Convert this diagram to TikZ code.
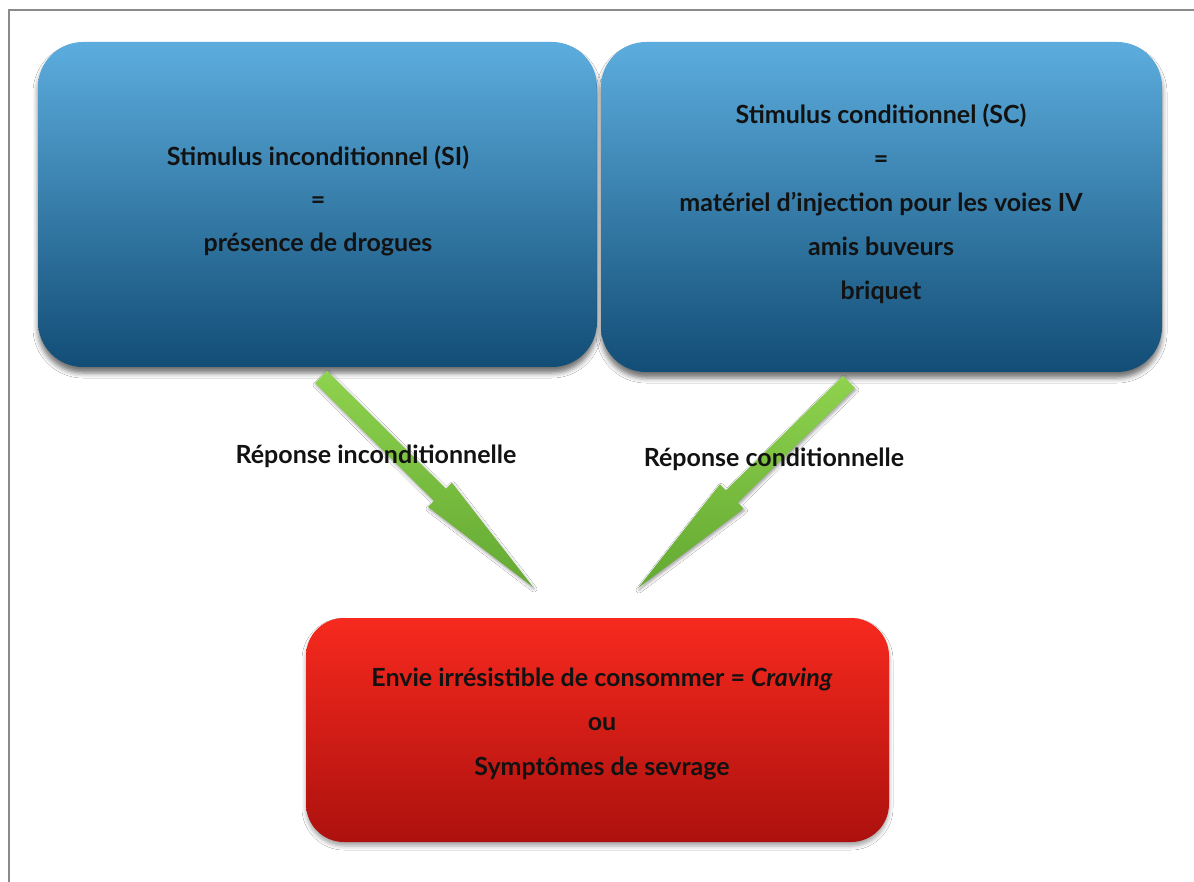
\documentclass[tikz,border=0pt]{standalone}
\usepackage{fontspec}
\setmainfont{Lato}
\usetikzlibrary{calc,shadows.blur}
\definecolor{bluetop}{HTML}{5CADDE}
\definecolor{bluebot}{HTML}{124D76}
\definecolor{redtop}{HTML}{F7291E}
\definecolor{redbot}{HTML}{AC110E}
\definecolor{greenA}{HTML}{8ED24E}
\definecolor{greenB}{HTML}{64A932}
\definecolor{txt}{HTML}{121212}
\definecolor{framegray}{HTML}{8A8A8A}
\newcommand\greenarrow[2]{%
  \coordinate (hb) at ($(#2)!131pt!(#1)$);
  \path[arrowfill] ($(#1)!8.5pt!90:(#2)$) -- ($(hb)!8.5pt!90:(#2)$) -- ($(hb)!17pt!90:(#2)$) -- (#2)
    -- ($(hb)!17pt!-90:(#2)$) -- ($(hb)!8.5pt!-90:(#2)$) -- ($(#1)!8.5pt!-90:(#2)$) -- cycle;}
\begin{document}
\begin{tikzpicture}[x=1pt,y=-1pt,
  bluebox/.style={rectangle, rounded corners=45pt, top color=bluetop, bottom color=bluebot, draw=none,
    blur shadow={shadow xshift=0pt, shadow yshift=-6pt, shadow blur radius=5pt, shadow opacity=55}},
  redbox/.style={rectangle, rounded corners=38pt, top color=redtop, bottom color=redbot, draw=none,
    blur shadow={shadow xshift=0pt, shadow yshift=-4pt, shadow blur radius=4pt, shadow opacity=35}},
  arrowfill/.style={top color=greenA, bottom color=greenB, draw=none,
    blur shadow={shadow xshift=1pt, shadow yshift=-2pt, shadow blur radius=3pt, shadow opacity=40}},
  lbl/.style={text=txt, align=center, inner sep=0pt, font=\fontsize{25}{43}\selectfont\bfseries}]
\useasboundingbox (0,0) rectangle (1194,882);
\fill[white] (0,0) rectangle (1194,882);
\draw[framegray, line width=2.5pt] (9,882) -- (9,10) -- (1194,10);
% boxes
\node[bluebox, minimum width=559pt, minimum height=325pt] (si) at (317.5,204.5) {};
\node[bluebox, minimum width=561pt, minimum height=330pt] (sc) at (881.5,207) {};
\node[redbox, minimum width=583pt, minimum height=224pt] (cr) at (597.5,730) {};
% texts
\node[lbl] (sitxt) at (318,200.5) {Stimulus inconditionnel (SI)\\=\\présence de drogues};
\node[lbl, font=\fontsize{25}{44}\selectfont\bfseries] (sctxt) at (881,203.5) {Stimulus conditionnel (SC)\\=\\matériel d’injection pour les voies IV\\amis buveurs\\briquet};
\node[lbl, font=\fontsize{25}{44.5}\selectfont\bfseries] (crtxt) at (602,723.5) {Envie irrésistible de consommer = \textit{Craving}\\ou\\Symptômes de sevrage};
% arrows
\coordinate (a1s) at (321,377);
\coordinate (a1e) at (533,587);
\coordinate (a2s) at (849,382);
\coordinate (a2e) at (638,588);
\greenarrow{a1s}{a1e}
\greenarrow{a2s}{a2e}
% arrow labels
\node[lbl] (l1) at (376,456) {Réponse inconditionnelle};
\node[lbl] (l2) at (774,459) {Réponse conditionnelle};
\end{tikzpicture}
\end{document}
